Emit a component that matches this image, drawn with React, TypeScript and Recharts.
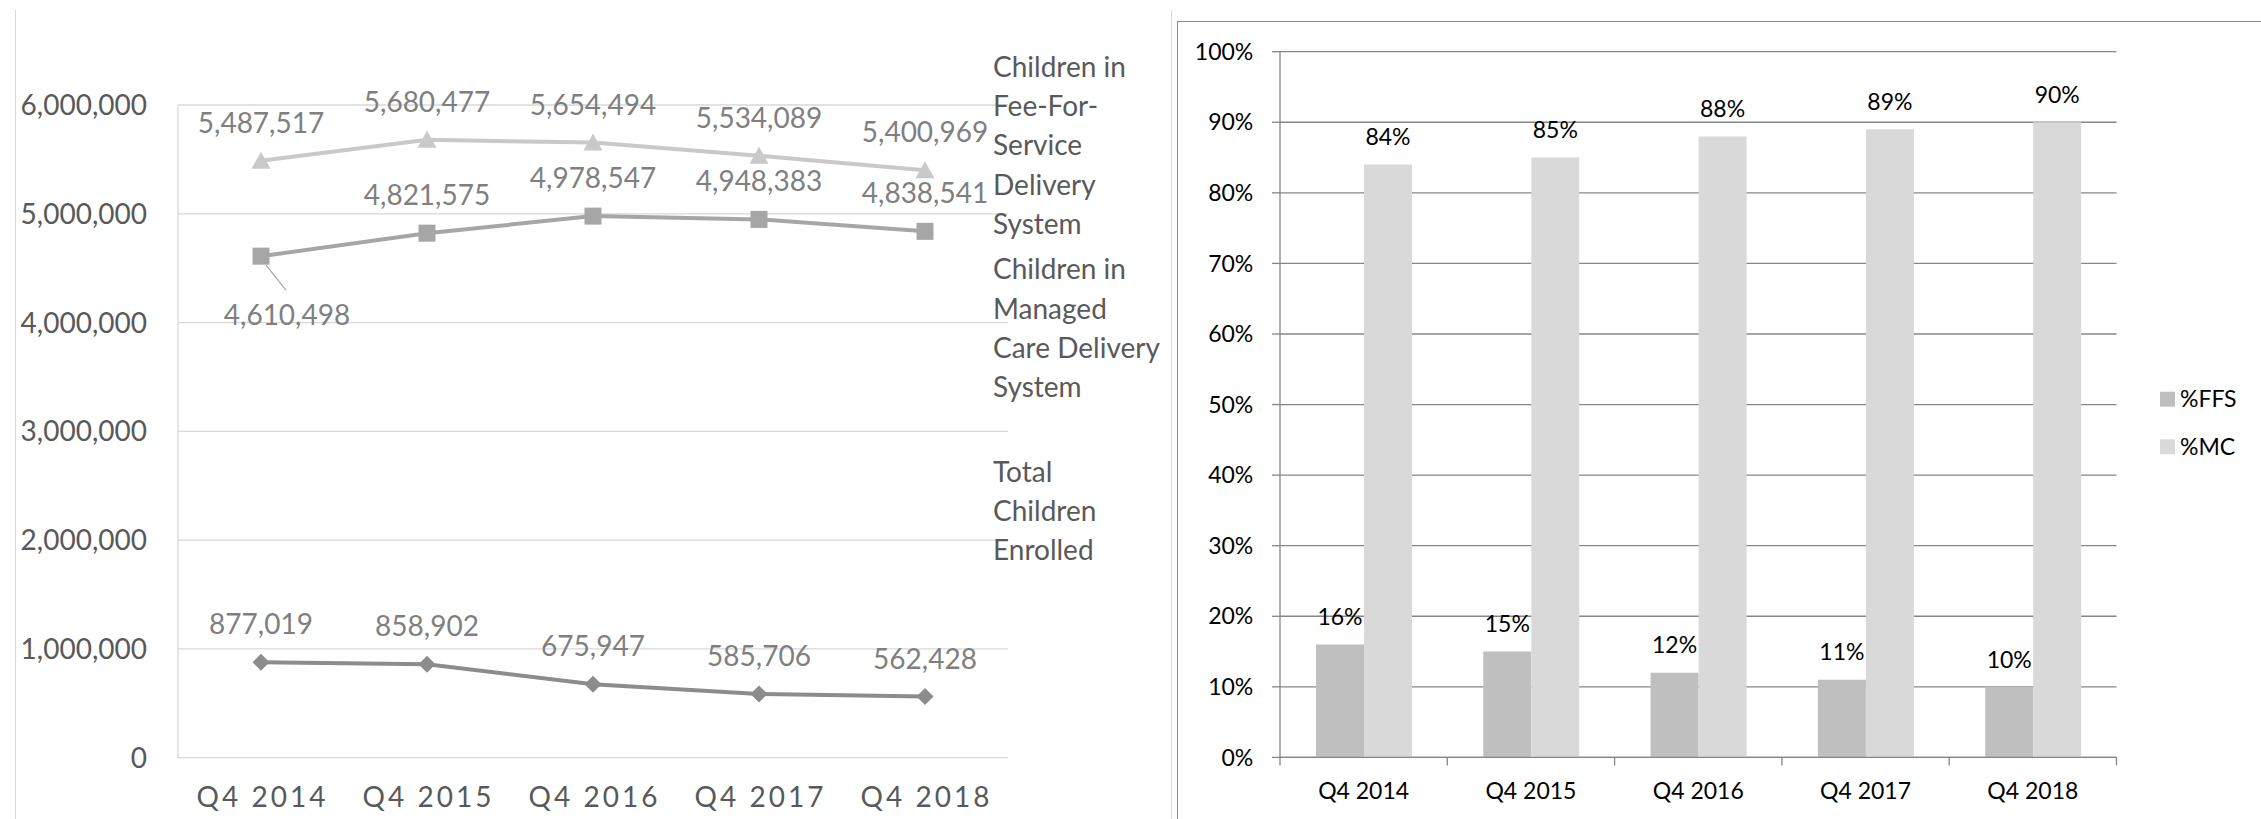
import React from 'react';
import { LineChart, Line, XAxis, YAxis, CartesianGrid, LabelList, Legend, BarChart, Bar } from 'recharts';

// ---------- data ----------
const quarters = ['Q4 2014', 'Q4 2015', 'Q4 2016', 'Q4 2017', 'Q4 2018'];
const totalChildren = [5487517, 5680477, 5654494, 5534089, 5400969];
const managedCareChildren = [4610498, 4821575, 4978547, 4948383, 4838541];
const feeForServiceChildren = [877019, 858902, 675947, 585706, 562428];
const countTicks = [0, 1000000, 2000000, 3000000, 4000000, 5000000, 6000000];

const pctFFS = [16, 15, 12, 11, 10];
const pctMC = [84, 85, 88, 89, 90];
const pctTicks = [0, 10, 20, 30, 40, 50, 60, 70, 80, 90, 100];

const lineLegendEntries = [
  ['Children in', 'Fee-For-', 'Service', 'Delivery', 'System'],
  ['Children in', 'Managed', 'Care Delivery', 'System'],
  ['Total', 'Children', 'Enrolled'],
];
const barLegendEntries = ['%FFS', '%MC'];

const lineData = quarters.map((q, i) => ({
  q,
  total: totalChildren[i],
  mc: managedCareChildren[i],
  ffs: feeForServiceChildren[i],
}));
const barData = quarters.map((q, i) => ({ q, ffs: pctFFS[i], mc: pctMC[i] }));

// ---------- styling ----------
const FONT = 'Lato, "Open Sans", sans-serif';
const LABEL_GREY = '#7f7f7f';
const AXIS_GREY = '#595959';
const C_TOTAL = '#c9c9c9';
const C_MC = '#a6a6a6';
const C_FFS = '#8c8c8c';

const fmt = (v: number) => Number(v).toLocaleString('en-US');

const getXY = (p: any) => {
  const vb = p.viewBox || {};
  return {
    x: vb.x ?? p.x ?? 0,
    y: vb.y ?? p.y ?? 0,
    w: vb.width ?? p.width ?? 0,
  };
};

const lineLabel = (color: string, special?: number) => (p: any) => {
  const { x, y } = getXY(p);
  if (special !== undefined && p.index === special) {
    return (
      <g>
        <line x1={x + 5} y1={y + 9} x2={x + 25} y2={y + 34} stroke="#a6a6a6" strokeWidth={1.2} />
        <text x={x + 26} y={y + 69} textAnchor="middle" fill={color} fontSize={28} fontFamily={FONT}>
          {fmt(p.value)}
        </text>
      </g>
    );
  }
  return (
    <text x={x} y={y - 28} textAnchor="middle" fill={color} fontSize={28} fontFamily={FONT}>
      {fmt(p.value)}
    </text>
  );
};

const TriangleDot = (p: any) => (
  <polygon
    key={`tri-${p.index}`}
    points={`${p.cx},${p.cy - 9} ${p.cx - 9.5},${p.cy + 8} ${p.cx + 9.5},${p.cy + 8}`}
    fill={C_TOTAL}
  />
);
const SquareDot = (p: any) => (
  <rect key={`sq-${p.index}`} x={p.cx - 8.5} y={p.cy - 8.5} width={17} height={17} fill={C_MC} />
);
const DiamondDot = (p: any) => (
  <polygon
    key={`dia-${p.index}`}
    points={`${p.cx},${p.cy - 8.5} ${p.cx + 8.5},${p.cy} ${p.cx},${p.cy + 8.5} ${p.cx - 8.5},${p.cy}`}
    fill={C_FFS}
  />
);

const LineLegend = () => {
  const firstBaselines = [76.7, 279.3, 481.7];
  const step = 39.3;
  return (
    <svg width={200} height={600} style={{ overflow: 'visible' }}>
      {lineLegendEntries.map((lines, e) =>
        lines.map((t, i) => (
          <text
            key={`${e}-${i}`}
            x={3}
            y={firstBaselines[e] + i * step}
            fill={AXIS_GREY}
            fontSize={28}
            fontFamily={FONT}
          >
            {t}
          </text>
        ))
      )}
    </svg>
  );
};

const BarLegend = () => {
  const colors = ['#bfbfbf', '#d9d9d9'];
  const tops = [391.7, 439.3];
  return (
    <svg width={100} height={500} style={{ overflow: 'visible' }}>
      {barLegendEntries.map((t, i) => (
        <g key={t}>
          <rect x={0} y={tops[i]} width={15} height={15} fill={colors[i]} />
          <text x={20} y={tops[i] + 15.5} fill="#000" fontSize={23} fontFamily={FONT}>
            {t}
          </text>
        </g>
      ))}
    </svg>
  );
};

const LeftXTick = (p: any) => (
  <text
    x={p.x + 1.5}
    y={p.y + 49.3}
    textAnchor="middle"
    fill={AXIS_GREY}
    fontSize={28}
    letterSpacing={3}
    fontFamily={FONT}
  >
    {p.payload.value}
  </text>
);

// left chart geometry
const LINE_W = 1170;
const LINE_MARGIN = { top: 105, right: 162, bottom: 11.3, left: 18 };
const LINE_YAXIS_W = 160;
const lineBand = (LINE_W - LINE_MARGIN.left - LINE_MARGIN.right - LINE_YAXIS_W) / quarters.length;

// right chart geometry
const BAR_W = 1083;
const BAR_H = 819;
const BAR_MARGIN = { top: 51.7, right: 144.5, bottom: 11.6, left: 22 };
const BAR_YAXIS_W = 80;
const barBand = (BAR_W - BAR_MARGIN.left - BAR_MARGIN.right - BAR_YAXIS_W) / quarters.length;

const RightXTick = (p: any) => {
  const isLast = p.index === quarters.length - 1;
  return (
    <g>
      <line x1={p.x - barBand / 2} y1={p.y} x2={p.x - barBand / 2} y2={p.y + 8} stroke="#868686" strokeWidth={1.3} />
      {isLast && (
        <line x1={p.x + barBand / 2} y1={p.y} x2={p.x + barBand / 2} y2={p.y + 8} stroke="#868686" strokeWidth={1.3} />
      )}
      <text x={p.x} y={p.y + 41.9} textAnchor="middle" fill="#000" fontSize={23} fontFamily={FONT}>
        {p.payload.value}
      </text>
    </g>
  );
};

const barLabel = (p: any) => {
  const { x, y, w } = getXY(p);
  return (
    <text x={x + w / 2} y={y - 19.3} textAnchor="middle" fill="#000" fontSize={23} fontFamily={FONT}>
      {`${p.value}%`}
    </text>
  );
};

export default function App() {
  return (
    <div
      style={{
        position: 'absolute',
        left: 0,
        top: 0,
        width: 2261,
        height: 819,
        overflow: 'hidden',
        background: '#fff',
        fontFamily: FONT,
      }}
    >
      {/* left chart frame (light) */}
      <div style={{ position: 'absolute', left: 15, top: 10, width: 1, height: 820, background: '#d9d9d9' }} />
      <div style={{ position: 'absolute', left: 1171, top: 10, width: 1, height: 820, background: '#d9d9d9' }} />
      {/* right chart frame */}
      <div
        style={{
          position: 'absolute',
          left: 1177,
          top: 21,
          width: 1300,
          height: 1000,
          border: '1.5px solid #8c8c8c',
        }}
      />

      <div style={{ position: 'absolute', left: 0, top: 0 }}>
        <LineChart width={LINE_W} height={819} data={lineData} margin={LINE_MARGIN}>
          <CartesianGrid vertical={false} stroke="#d9d9d9" strokeWidth={1.3} />
          <XAxis
            dataKey="q"
            height={50}
            axisLine={false}
            tickLine={false}
            tickSize={0}
            tickMargin={0}
            tick={LeftXTick}
            interval={0}
            padding={{ left: lineBand / 2, right: lineBand / 2 }}
          />
          <YAxis
            width={LINE_YAXIS_W}
            domain={[0, 6000000]}
            ticks={countTicks}
            tickFormatter={fmt}
            axisLine={{ stroke: '#d9d9d9', strokeWidth: 1.3 }}
            tickLine={false}
            tickSize={0}
            tickMargin={31}
            tick={{ fill: AXIS_GREY, fontSize: 28, fontFamily: FONT }}
            interval={0}
          />
          <Legend
            layout="horizontal"
            verticalAlign="middle"
            align="center"
            content={LineLegend}
            wrapperStyle={{ position: 'absolute', left: 990, top: 0, width: 200, height: 600 }}
          />
          <Line
            dataKey="total"
            stroke={C_TOTAL}
            strokeWidth={4}
            dot={TriangleDot}
            activeDot={false}
            isAnimationActive={false}
          >
            <LabelList dataKey="total" content={lineLabel(LABEL_GREY)} />
          </Line>
          <Line dataKey="mc" stroke={C_MC} strokeWidth={4} dot={SquareDot} activeDot={false} isAnimationActive={false}>
            <LabelList dataKey="mc" content={lineLabel(LABEL_GREY, 0)} />
          </Line>
          <Line dataKey="ffs" stroke={C_FFS} strokeWidth={4} dot={DiamondDot} activeDot={false} isAnimationActive={false}>
            <LabelList dataKey="ffs" content={lineLabel(LABEL_GREY)} />
          </Line>
        </LineChart>
      </div>

      <div style={{ position: 'absolute', left: 1178, top: 0 }}>
        <BarChart width={BAR_W} height={BAR_H} data={barData} margin={BAR_MARGIN} barGap={0}>
          <CartesianGrid vertical={false} stroke="#868686" strokeWidth={1.3} />
          <XAxis
            dataKey="q"
            height={50}
            axisLine={{ stroke: '#868686', strokeWidth: 1.3 }}
            tickLine={false}
            tickSize={0}
            tickMargin={0}
            tick={RightXTick}
            interval={0}
          />
          <YAxis
            width={BAR_YAXIS_W}
            domain={[0, 100]}
            ticks={pctTicks}
            tickFormatter={(v: number) => `${v}%`}
            axisLine={{ stroke: '#868686', strokeWidth: 1.3 }}
            tickLine={{ stroke: '#868686', strokeWidth: 1.3 }}
            tickSize={8}
            tickMargin={18.7}
            tick={{ fill: '#000', fontSize: 23, fontFamily: FONT }}
            interval={0}
          />
          <Legend
            layout="horizontal"
            verticalAlign="middle"
            align="center"
            content={BarLegend}
            wrapperStyle={{ position: 'absolute', left: 982, top: 0, width: 100, height: 500 }}
          />
          <Bar dataKey="ffs" fill="#bfbfbf" barSize={48} isAnimationActive={false}>
            <LabelList dataKey="ffs" content={barLabel} />
          </Bar>
          <Bar dataKey="mc" fill="#d9d9d9" barSize={48} isAnimationActive={false}>
            <LabelList dataKey="mc" content={barLabel} />
          </Bar>
        </BarChart>
      </div>
    </div>
  );
}
